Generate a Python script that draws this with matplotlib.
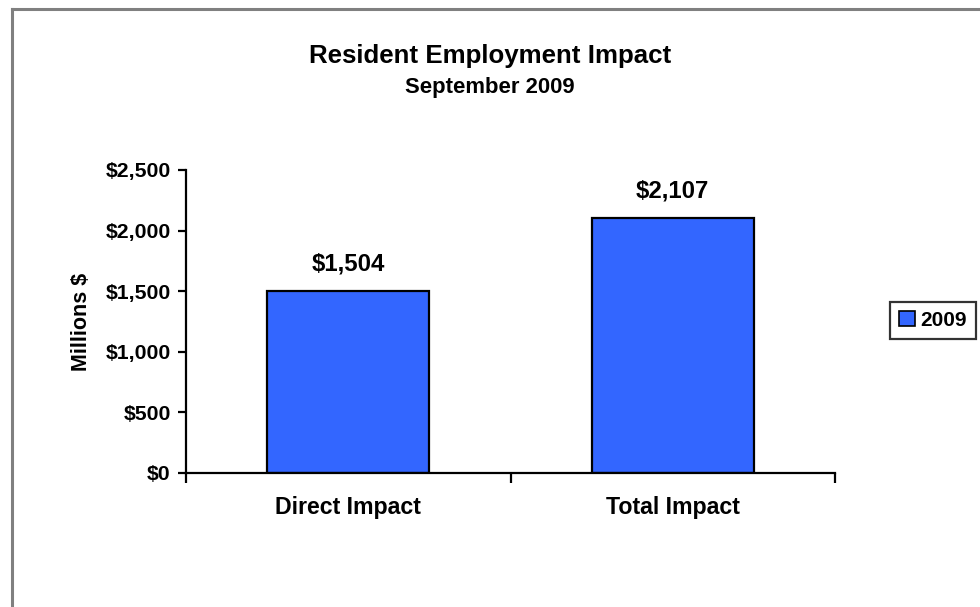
import matplotlib
matplotlib.use("Agg")
import matplotlib.pyplot as plt
from matplotlib.lines import Line2D
from matplotlib.patches import Patch
from matplotlib.ticker import FuncFormatter

plt.rcParams['font.family'] = ['Liberation Sans', 'DejaVu Sans']
plt.rcParams['font.weight'] = 'bold'

categories = ["Direct Impact", "Total Impact"]
values = [1504, 2107]
series_name = "2009"
y_ticks = [0, 500, 1000, 1500, 2000, 2500]

bar_color = "#3366FF"

fig = plt.figure(figsize=(9.8, 6.07), dpi=100)
fig.patch.set_facecolor("white")

# Outer chart-area border (left and top edges visible)
fig.add_artist(Line2D([11.5 / 980, 11.5 / 980], [0, 1 - 8.5 / 607],
                      transform=fig.transFigure, color="#808080", lw=2.2))
fig.add_artist(Line2D([11.5 / 980, 1], [1 - 8.5 / 607, 1 - 8.5 / 607],
                      transform=fig.transFigure, color="#808080", lw=2.2))

ax = fig.add_axes([186 / 980, 1 - 473 / 607, (835 - 186) / 980, (473 - 170) / 607])

x = list(range(len(categories)))
bars = ax.bar(x, values, width=0.5, color=bar_color, edgecolor="black", linewidth=1.6, zorder=2)

ax.set_xlim(-0.5, len(categories) - 0.5)
ax.set_ylim(0, 2500)
ax.set_yticks(y_ticks)
ax.yaxis.set_major_formatter(FuncFormatter(lambda v, p: "${:,.0f}".format(v)))

# Category separators as x ticks
ax.set_xticks([i - 0.5 for i in range(len(categories) + 1)])
ax.set_xticklabels([])
ax.tick_params(axis="x", direction="out", length=7, width=1.6, color="black")
ax.tick_params(axis="y", direction="out", length=6, width=1.6, color="black",
               labelsize=15.3, pad=5)
for lab in ax.get_yticklabels():
    lab.set_fontweight("bold")

for i, c in enumerate(categories):
    ax.text(i, -0.115, c, transform=ax.get_xaxis_transform(), ha="center", va="center",
            fontsize=16.7, fontweight="bold")

for s in ["top", "right"]:
    ax.spines[s].set_visible(False)
for s in ["left", "bottom"]:
    ax.spines[s].set_linewidth(1.6)

for b, v in zip(bars, values):
    ax.annotate("${:,.0f}".format(v), (b.get_x() + b.get_width() / 2, v),
                xytext=(0, 19.5), textcoords="offset points", ha="center", va="center",
                fontsize=17.3, fontweight="bold")

ax.set_ylabel("Millions $", fontsize=15.5, fontweight="bold", labelpad=10)

fig.text(0.5, 1 - 56 / 607, "Resident Employment Impact", ha="center", va="center",
         fontsize=18.6, fontweight="bold")
fig.text(0.5, 1 - 87 / 607, "September 2009", ha="center", va="center",
         fontsize=15.9, fontweight="bold")

leg = fig.legend(handles=[Patch(facecolor=bar_color, edgecolor="black", linewidth=1.2, label=series_name)],
                 loc="center", bbox_to_anchor=(933 / 980, 1 - 320.5 / 607),
                 frameon=True, fancybox=False, handlelength=0.75, handleheight=0.75,
                 handletextpad=0.25, borderpad=0.45, borderaxespad=0,
                 prop={"weight": "bold", "size": 15})
leg.get_frame().set_edgecolor("black")
leg.get_frame().set_linewidth(1.6)

fig.savefig("out.png", dpi=100, facecolor="white")
